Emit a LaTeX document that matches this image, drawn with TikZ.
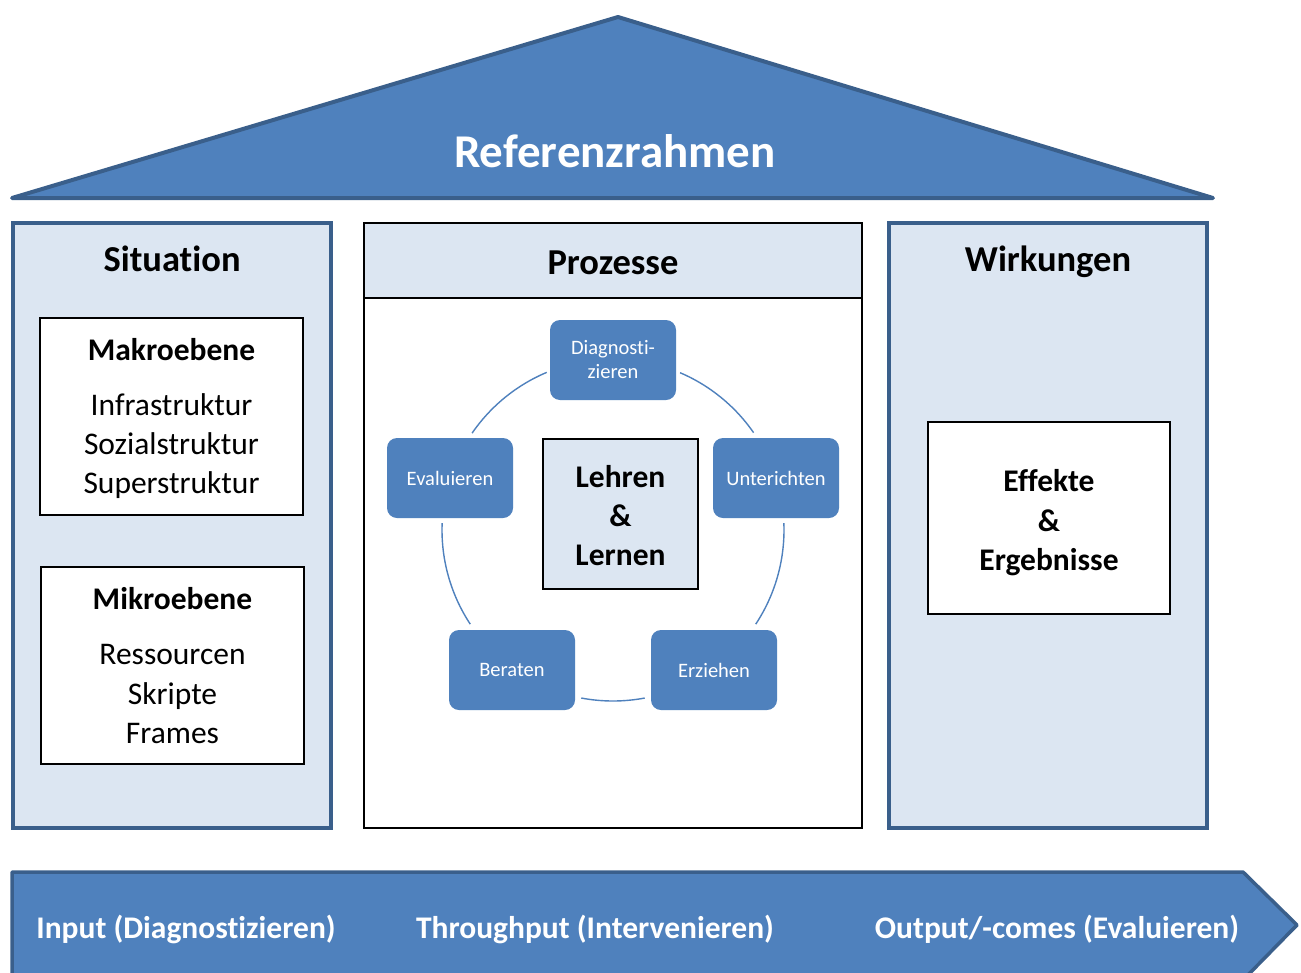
\documentclass[tikz,border=0pt]{standalone}
\usepackage{fontspec}
\setmainfont{Carlito}[Ligatures={NoCommon}]
\usetikzlibrary{positioning}

\definecolor{houseblue}{HTML}{4F81BD}
\definecolor{edgeblue}{HTML}{3A5F8B}
\definecolor{paleblue}{HTML}{DCE6F2}

\begin{document}
\begin{tikzpicture}[
    x=1pt,
    y=-1pt,
    panel/.style={
        draw=edgeblue,
        line width=4pt,
        fill=paleblue,
        anchor=north west,
        inner sep=0pt,
        outer sep=0pt
    },
    infobox/.style={
        draw=black,
        line width=1.1pt,
        fill=white,
        anchor=north west,
        inner sep=0pt,
        outer sep=0pt
    },
    phase/.style={
        fill=houseblue,
        rounded corners=10pt,
        minimum width=126pt,
        minimum height=80pt,
        inner sep=0pt,
        text=white,
        align=center,
        font=\fontsize{20.5}{24}\selectfont
    },
    ring/.style={draw=houseblue, line width=1.4pt},
    heading/.style={anchor=base, font=\fontsize{36.5}{44}\selectfont\bfseries},
    boldline/.style={anchor=base, font=\fontsize{31.5}{39}\selectfont\bfseries},
    plainline/.style={anchor=base, font=\fontsize{31.5}{39}\selectfont},
    flowtext/.style={anchor=base, text=white, font=\fontsize{31.5}{38}\selectfont\bfseries}
]

\useasboundingbox (0,0) rectangle (1301,972);

% Roof
\draw[draw=edgeblue, line width=4pt, fill=houseblue, line join=round]
    (12,198) -- (618,17) -- (1213,198) -- cycle;
\node[anchor=base, text=white, font=\fontsize{47}{56}\selectfont\bfseries]
    (roof) at (615,167) {Referenzrahmen};

% Left pillar: situation
\node[panel, minimum width=318pt, minimum height=605pt] (situation) at (13,223) {};
\node[heading] (sittitle) at (172,271) {Situation};

\node[infobox, minimum width=263pt, minimum height=197pt] (makro) at (40,318) {};
\node[boldline] (makrotitle) at (171.5,360) {Makroebene};
\foreach \t [count=\i] in {Infrastruktur, Sozialstruktur, Superstruktur}
    \node[plainline] (makro\i) at (171.5,376+39*\i) {\t};

\node[infobox, minimum width=263pt, minimum height=197pt] (mikro) at (41,567) {};
\node[boldline] (mikrotitle) at (172.5,609) {Mikroebene};
\foreach \t [count=\i] in {Ressourcen, Skripte, Frames}
    \node[plainline] (mikro\i) at (172.5,625+39.5*\i) {\t};

% Middle pillar: processes
\node[infobox, minimum width=498pt, minimum height=605pt] (prozesse) at (364,223) {};
\node[infobox, fill=paleblue, minimum width=498pt, minimum height=75pt] (prozhead) at (364,223) {};
\node[heading] (proztitle) at (613,274) {Prozesse};

\node[infobox, fill=paleblue, line width=1.5pt, minimum width=155pt, minimum height=150pt]
    (core) at (543,439) {};
\foreach \t [count=\i] in {Lehren, \&, Lernen}
    \node[boldline] (core\i) at (620.5,448+39*\i) {\t};

% Cycle around the core
\coordinate (ctr) at (613,530);
\node[phase] (diag)  at (613,360) {Diagnosti-\\zieren};
\node[phase] (unter) at (776,478) {Unterichten};
\node[phase] (erz)   at (714,670) {Erziehen};
\node[phase] (ber)   at (512,670) {Beraten};
\node[phase] (eval)  at (450,478) {Evaluieren};

\foreach \a/\b in {66.9/34.7, 2.3/-33.4, -79.3/-100.7, -146.6/-182.3, 145.5/112.8}
    \draw[ring] (ctr) ++(\a:171pt) arc[start angle=\a, end angle=\b, radius=171pt];

% Right pillar: effects
\node[panel, minimum width=318pt, minimum height=605pt] (wirkungen) at (889,223) {};
\node[heading] (wirktitle) at (1048,271) {Wirkungen};

\node[infobox, minimum width=242pt, minimum height=192pt] (effekte) at (928,422) {};
\foreach \t [count=\i] in {Effekte, \&, Ergebnisse}
    \node[boldline] (eff\i) at (1049,452+39.5*\i) {\t};

% Flow arrow at the bottom
\draw[draw=edgeblue, line width=3.5pt, fill=houseblue, line join=round]
    (12,872) -- (1243,872) -- (1297,925) -- (1243,980) -- (12,980) -- cycle;
\node[flowtext] (input)      at (186,938)  {Input (Diagnostizieren)};
\node[flowtext] (throughput) at (595,938)  {Throughput (Intervenieren)};
\node[flowtext] (output)     at (1057,938) {Output/-comes (Evaluieren)};

\end{tikzpicture}
\end{document}
